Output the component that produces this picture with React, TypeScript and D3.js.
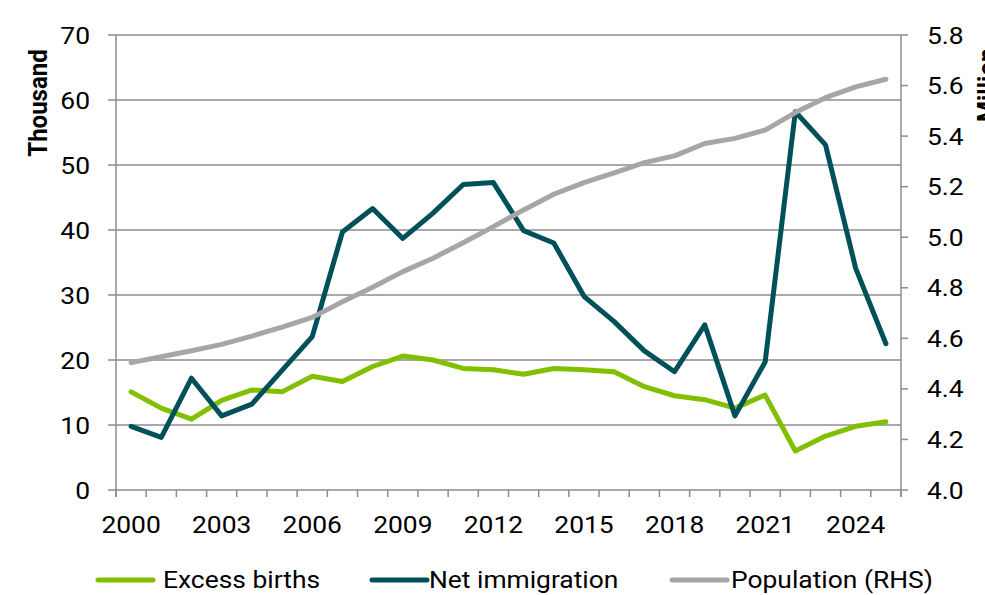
import React from "react";
import * as d3 from "d3";

const years = [2000, 2001, 2002, 2003, 2004, 2005, 2006, 2007, 2008, 2009, 2010, 2011, 2012, 2013, 2014, 2015, 2016, 2017, 2018, 2019, 2020, 2021, 2022, 2023, 2024, 2025];
const excessBirths = [15.1, 12.6, 10.9, 13.8, 15.4, 15.1, 17.5, 16.7, 19.0, 20.6, 20.0, 18.7, 18.5, 17.8, 18.7, 18.5, 18.2, 15.9, 14.5, 13.9, 12.6, 14.6, 6.0, 8.3, 9.8, 10.5];
const netImmigration = [9.8, 8.1, 17.2, 11.4, 13.2, 18.4, 23.6, 39.7, 43.3, 38.7, 42.6, 47.0, 47.3, 39.9, 38.0, 29.8, 25.9, 21.4, 18.2, 25.4, 11.4, 19.7, 58.2, 53.1, 34.1, 22.5];
const population = [4.504, 4.527, 4.551, 4.576, 4.609, 4.644, 4.683, 4.745, 4.802, 4.864, 4.917, 4.978, 5.042, 5.108, 5.17, 5.216, 5.255, 5.295, 5.322, 5.371, 5.391, 5.424, 5.493, 5.552, 5.595, 5.625];
const xTickYears = [2000, 2003, 2006, 2009, 2012, 2015, 2018, 2021, 2024];
const leftTicks = [0, 10, 20, 30, 40, 50, 60, 70];
const rightTicks = [4.0, 4.2, 4.4, 4.6, 4.8, 5.0, 5.2, 5.4, 5.6, 5.8];
const seriesNames = ["Excess births", "Net immigration", "Population (RHS)"];

const GREEN = "#80C000";
const TEAL = "#00505A";
const GRAY = "#A6A6A6";
const AXIS = "#8C8C8C";
const FONT = "Roboto, sans-serif";
const SX = 1.1;

const L = 116, R = 901, T = 35, B = 490;

function Txt({ x, y, anchor = "start", size = 24, weight = 400, rot = 0, children }: any) {
  return (
    <text
      transform={`translate(${x},${y}) scale(${SX},1)${rot ? ` rotate(${rot})` : ""}`}
      textAnchor={anchor}
      fontFamily={FONT}
      fontSize={size}
      fontWeight={weight}
      fill="#000"
    >
      {children}
    </text>
  );
}

export default function App() {
  const x = d3.scaleBand<number>().domain(years).range([L, R]).paddingInner(0).paddingOuter(0);
  const yL = d3.scaleLinear().domain([0, 70]).range([B, T]);
  const yR = d3.scaleLinear().domain([4.0, 5.8]).range([B, T]);
  const cx = (yr: number) => (x(yr) as number) + x.bandwidth() / 2;

  const lineL = d3.line<number>().x((_, i) => cx(years[i])).y((d) => yL(d));
  const lineR = d3.line<number>().x((_, i) => cx(years[i])).y((d) => yR(d));

  const boundaries = years.map((yr) => x(yr) as number).concat([R]);

  const legend = [
    { name: seriesNames[0], color: GREEN, x0: 98, x1: 153, tx: 163 },
    { name: seriesNames[1], color: TEAL, x0: 372, x1: 427, tx: 429 },
    { name: seriesNames[2], color: GRAY, x0: 672, x1: 727, tx: 731 },
  ];

  return (
    <svg width={985} height={595} style={{ position: "fixed", left: 0, top: 0, background: "#fff" }}>
      <rect x={0} y={0} width={985} height={595} fill="#fff" />
      {/* gridlines */}
      {leftTicks.map((t) => (
        <line key={"g" + t} x1={L - 8} x2={R} y1={yL(t)} y2={yL(t)} stroke={AXIS} strokeWidth={1.5} />
      ))}
      {/* left axis */}
      <line x1={L} x2={L} y1={T} y2={B + 7} stroke={AXIS} strokeWidth={1.5} />
      {/* right axis */}
      <line x1={R} x2={R} y1={T} y2={B + 7} stroke={AXIS} strokeWidth={1.5} />
      {rightTicks.map((t) => (
        <line key={"rt" + t} x1={R} x2={R + 7} y1={yR(t)} y2={yR(t)} stroke={AXIS} strokeWidth={1.5} />
      ))}
      {/* x ticks */}
      {boundaries.map((bx, i) => (
        <line key={"xt" + i} x1={bx} x2={bx} y1={B} y2={B + 7} stroke={AXIS} strokeWidth={1.5} />
      ))}
      {/* labels */}
      {leftTicks.map((t) => (
        <Txt key={"ll" + t} x={90} y={yL(t) + 8.5} anchor="end">{String(t)}</Txt>
      ))}
      {rightTicks.map((t) => (
        <Txt key={"rl" + t} x={927} y={yR(t) + 8.5}>{t.toFixed(1)}</Txt>
      ))}
      {xTickYears.map((yr) => (
        <Txt key={"xl" + yr} x={cx(yr)} y={533} anchor="middle">{String(yr)}</Txt>
      ))}
      <Txt x={47} y={103} anchor="middle" weight={700} rot={-90}>Thousand</Txt>
      <Txt x={996} y={122} anchor="start" weight={700} rot={-90}>Million</Txt>
      {/* series */}
      <path d={lineL(excessBirths) || ""} fill="none" stroke={GREEN} strokeWidth={5} strokeLinejoin="round" strokeLinecap="round" />
      <path d={lineL(netImmigration) || ""} fill="none" stroke={TEAL} strokeWidth={5} strokeLinejoin="round" strokeLinecap="round" />
      <path d={lineR(population) || ""} fill="none" stroke={GRAY} strokeWidth={5} strokeLinejoin="round" strokeLinecap="round" />
      {/* legend */}
      {legend.map((l) => (
        <g key={l.name}>
          <line x1={l.x0} x2={l.x1} y1={580} y2={580} stroke={l.color} strokeWidth={5} strokeLinecap="round" />
          <Txt x={l.tx} y={588}>{l.name}</Txt>
        </g>
      ))}
    </svg>
  );
}
